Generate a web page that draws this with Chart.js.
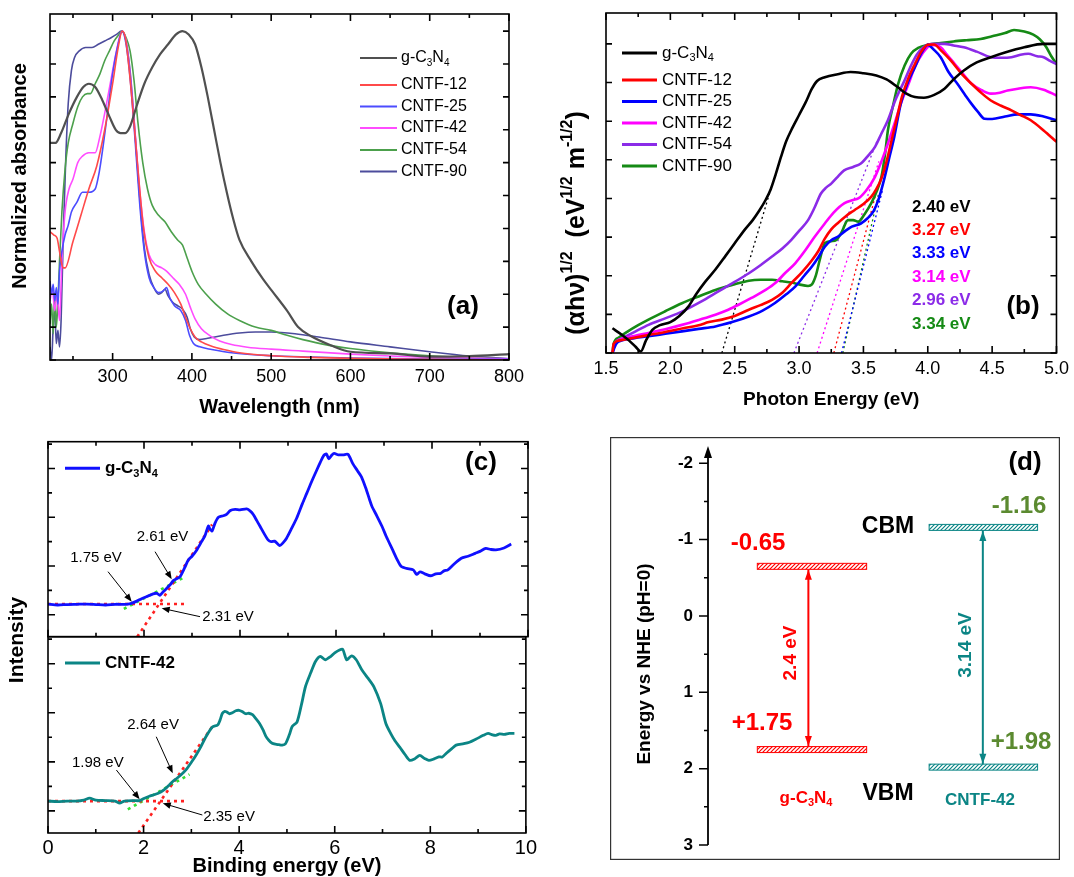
<!DOCTYPE html>
<html>
<head>
<meta charset="utf-8">
<script src="https://cdn.jsdelivr.net/npm/chart.js@4.4.1/dist/chart.umd.min.js"></script>
<style>
  html, body { margin: 0; padding: 0; background: #fff; }
  #wrap { position: relative; width: 1074px; height: 877px; overflow: hidden; }
  canvas { position: absolute; }
</style>
</head>
<body>
<div id="wrap">
  <canvas id="cA" width="530" height="430" style="left:0;top:0"></canvas>
  <canvas id="cB" width="544" height="430" style="left:530px;top:0"></canvas>
  <canvas id="cC1" width="540" height="447" style="left:0;top:430px"></canvas>
  <canvas id="cC2" width="540" height="447" style="left:0;top:430px"></canvas>
  <canvas id="cD" width="450" height="423" style="left:610px;top:437px"></canvas>
</div>
<script>
// ---- (a) normalized absorbance, [wavelength nm, value] ----
const absNames = ['g-C_3N_4', 'CNTF-12', 'CNTF-25', 'CNTF-42', 'CNTF-54', 'CNTF-90'];
const absGCN = [[221,0.66],[228,0.66],[235,0.69],[245,0.75],[255,0.80],[263,0.83],[270,0.84],[278,0.83],[287,0.79],[296,0.74],[304,0.70],[310,0.69],[316,0.69],[322,0.71],[330,0.77],[340,0.84],[350,0.89],[360,0.93],[370,0.96],[380,0.99],[388,1.0],[396,0.99],[404,0.96],[412,0.89],[420,0.80],[428,0.70],[436,0.60],[444,0.51],[452,0.43],[460,0.365],[475,0.30],[490,0.245],[501,0.21],[520,0.15],[534,0.10],[550,0.073],[575,0.045],[600,0.025],[650,0.02],[700,0.01],[750,0.012],[800,0.018]];
const absC12 = [[221,0.39],[226,0.38],[230,0.37],[233,0.33],[236,0.29],[238,0.28],[240,0.28],[250,0.36],[260,0.44],[270,0.52],[280,0.59],[290,0.70],[300,0.84],[307,0.95],[312,1.0],[316,0.98],[321,0.88],[327,0.72],[333,0.55],[339,0.40],[346,0.31],[354,0.27],[362,0.25],[370,0.23],[378,0.205],[386,0.17],[392,0.13],[398,0.095],[404,0.07],[412,0.055],[425,0.042],[440,0.032],[460,0.022],[500,0.013],[550,0.008],[600,0.005],[700,0.002],[800,0.0]];
const absC25 = [[221,0.24],[223,0.2],[225,0.23],[227,0.18],[229,0.22],[231,0.17],[233,0.27],[236,0.33],[240,0.38],[244,0.41],[248,0.45],[255,0.48],[262,0.51],[270,0.51],[278,0.52],[283,0.57],[288,0.65],[294,0.76],[300,0.87],[306,0.95],[312,1.0],[317,0.96],[322,0.86],[328,0.68],[334,0.48],[340,0.33],[346,0.25],[352,0.22],[358,0.205],[364,0.21],[368,0.22],[372,0.19],[378,0.165],[386,0.15],[392,0.12],[397,0.075],[402,0.05],[410,0.04],[425,0.032],[450,0.022],[500,0.013],[550,0.009],[600,0.006],[700,0.003],[800,0.002]];
const absC42 = [[221,0.18],[224,0.22],[227,0.15],[230,0.2],[233,0.12],[236,0.3],[240,0.45],[245,0.52],[250,0.55],[256,0.6],[262,0.62],[270,0.63],[278,0.63],[284,0.68],[290,0.75],[297,0.84],[304,0.93],[312,1.0],[317,0.97],[322,0.87],[328,0.70],[334,0.52],[340,0.39],[346,0.32],[354,0.29],[362,0.28],[368,0.27],[376,0.25],[384,0.23],[392,0.2],[398,0.16],[404,0.125],[412,0.095],[422,0.075],[435,0.058],[450,0.047],[470,0.039],[500,0.033],[540,0.027],[600,0.018],[650,0.012],[700,0.008],[800,0.004]];
const absC54 = [[221,0.11],[223,0.17],[225,0.08],[227,0.2],[229,0.1],[231,0.18],[233,0.3],[236,0.45],[240,0.58],[244,0.66],[250,0.72],[256,0.77],[262,0.80],[268,0.81],[272,0.81],[278,0.84],[284,0.87],[290,0.91],[296,0.94],[302,0.97],[308,0.99],[312,1.0],[317,0.98],[322,0.94],[327,0.85],[332,0.72],[338,0.60],[344,0.52],[350,0.47],[358,0.44],[366,0.42],[374,0.39],[382,0.365],[388,0.35],[394,0.31],[400,0.27],[408,0.23],[418,0.20],[430,0.17],[445,0.14],[460,0.12],[480,0.1],[500,0.09],[520,0.075],[540,0.062],[570,0.046],[600,0.035],[650,0.022],[700,0.013],[750,0.007],[800,0.003]];
const absC90 = [[221,0.04],[223,0.0],[225,0.1],[227,0.15],[229,0.05],[231,0.09],[233,0.04],[235,0.12],[238,0.4],[241,0.62],[244,0.78],[248,0.88],[252,0.92],[258,0.94],[266,0.95],[274,0.95],[282,0.96],[290,0.97],[298,0.98],[305,0.99],[311,1.0],[316,0.98],[322,0.88],[328,0.70],[334,0.50],[340,0.34],[346,0.26],[352,0.22],[358,0.20],[362,0.205],[366,0.215],[370,0.195],[376,0.175],[382,0.165],[388,0.155],[394,0.13],[398,0.095],[403,0.07],[410,0.062],[420,0.066],[440,0.075],[460,0.082],[480,0.085],[500,0.085],[530,0.08],[560,0.07],[600,0.055],[650,0.04],[700,0.025],[750,0.012],[800,0.004]];
const absData = [absGCN, absC12, absC25, absC42, absC54, absC90];

// ---- (b) Tauc plot, [photon energy eV, value] ----
const tauNames = ['g-C_3N_4', 'CNTF-12', 'CNTF-25', 'CNTF-42', 'CNTF-54', 'CNTF-90'];
const tauGCN = [[1.55,0.08],[1.62,0.06],[1.68,0.04],[1.73,0.02],[1.77,0.005],[1.81,0.04],[1.86,0.075],[1.92,0.09],[2.0,0.1],[2.07,0.12],[2.14,0.15],[2.2,0.19],[2.27,0.23],[2.35,0.27],[2.43,0.315],[2.5,0.355],[2.58,0.40],[2.64,0.43],[2.69,0.46],[2.74,0.495],[2.78,0.53],[2.82,0.58],[2.86,0.635],[2.9,0.685],[2.95,0.73],[3.0,0.77],[3.05,0.81],[3.1,0.855],[3.14,0.88],[3.2,0.892],[3.3,0.902],[3.4,0.909],[3.5,0.905],[3.6,0.898],[3.68,0.885],[3.76,0.862],[3.83,0.84],[3.9,0.828],[3.97,0.826],[4.05,0.835],[4.13,0.855],[4.2,0.885],[4.28,0.914],[4.38,0.94],[4.49,0.957],[4.6,0.972],[4.75,0.989],[4.9,1.0],[5.0,1.0]];
const tauC12 = [[1.55,0.0],[1.56,0.03],[1.6,0.04],[1.7,0.048],[1.83,0.058],[1.96,0.068],[2.1,0.08],[2.22,0.09],[2.3,0.1],[2.4,0.108],[2.5,0.12],[2.61,0.14],[2.7,0.155],[2.79,0.172],[2.87,0.195],[2.94,0.226],[3.02,0.26],[3.1,0.30],[3.15,0.33],[3.2,0.37],[3.25,0.40],[3.3,0.42],[3.37,0.445],[3.43,0.462],[3.5,0.482],[3.56,0.505],[3.6,0.53],[3.64,0.565],[3.68,0.62],[3.72,0.69],[3.76,0.76],[3.8,0.83],[3.85,0.89],[3.9,0.935],[3.95,0.975],[4.0,0.997],[4.05,0.998],[4.1,0.98],[4.18,0.946],[4.26,0.905],[4.34,0.871],[4.42,0.84],[4.49,0.817],[4.57,0.80],[4.65,0.785],[4.72,0.77],[4.8,0.753],[4.9,0.72],[5.0,0.683]];
const tauC25 = [[1.55,0.0],[1.58,0.03],[1.62,0.04],[1.72,0.048],[1.83,0.054],[1.96,0.062],[2.09,0.07],[2.22,0.078],[2.35,0.086],[2.48,0.1],[2.61,0.118],[2.72,0.138],[2.81,0.161],[2.9,0.19],[2.97,0.215],[3.04,0.25],[3.1,0.28],[3.15,0.31],[3.2,0.344],[3.25,0.365],[3.3,0.376],[3.36,0.395],[3.41,0.409],[3.48,0.419],[3.53,0.435],[3.58,0.46],[3.62,0.50],[3.66,0.56],[3.7,0.63],[3.74,0.70],[3.79,0.806],[3.84,0.87],[3.9,0.925],[3.95,0.97],[4.0,0.997],[4.05,0.98],[4.1,0.957],[4.16,0.91],[4.23,0.871],[4.29,0.835],[4.34,0.806],[4.39,0.78],[4.44,0.758],[4.5,0.757],[4.6,0.765],[4.7,0.772],[4.8,0.772],[4.9,0.765],[5.0,0.753]];
const tauC42 = [[1.55,0.0],[1.57,0.03],[1.62,0.045],[1.72,0.055],[1.83,0.065],[1.96,0.077],[2.09,0.091],[2.22,0.107],[2.35,0.124],[2.45,0.14],[2.53,0.156],[2.63,0.178],[2.74,0.204],[2.82,0.228],[2.89,0.258],[2.97,0.29],[3.05,0.333],[3.12,0.375],[3.2,0.419],[3.27,0.455],[3.35,0.484],[3.42,0.495],[3.46,0.50],[3.52,0.525],[3.59,0.57],[3.64,0.62],[3.69,0.677],[3.74,0.74],[3.79,0.806],[3.85,0.87],[3.9,0.925],[3.96,0.97],[4.03,0.997],[4.1,0.989],[4.15,0.965],[4.21,0.935],[4.28,0.90],[4.34,0.871],[4.42,0.85],[4.49,0.839],[4.56,0.842],[4.62,0.849],[4.7,0.855],[4.8,0.86],[4.9,0.852],[5.0,0.833]];
const tauC54 = [[1.55,0.0],[1.57,0.03],[1.63,0.048],[1.73,0.07],[1.83,0.091],[1.96,0.112],[2.09,0.134],[2.22,0.162],[2.35,0.194],[2.48,0.225],[2.61,0.258],[2.7,0.284],[2.79,0.312],[2.87,0.338],[2.94,0.366],[3.0,0.395],[3.07,0.43],[3.12,0.47],[3.17,0.516],[3.21,0.535],[3.25,0.548],[3.3,0.57],[3.35,0.591],[3.42,0.602],[3.48,0.613],[3.54,0.64],[3.59,0.667],[3.64,0.71],[3.69,0.753],[3.75,0.82],[3.82,0.882],[3.87,0.93],[3.92,0.968],[4.0,0.997],[4.06,1.0],[4.13,1.0],[4.2,0.995],[4.28,0.989],[4.38,0.975],[4.49,0.957],[4.57,0.955],[4.65,0.957],[4.72,0.965],[4.78,0.968],[4.85,0.96],[4.9,0.957],[4.95,0.945],[5.0,0.935]];
const tauC90 = [[1.55,0.0],[1.56,0.03],[1.6,0.05],[1.67,0.07],[1.75,0.09],[1.83,0.108],[1.96,0.135],[2.09,0.161],[2.22,0.183],[2.35,0.204],[2.48,0.22],[2.61,0.234],[2.7,0.237],[2.79,0.237],[2.87,0.232],[2.94,0.228],[3.0,0.222],[3.07,0.217],[3.1,0.222],[3.13,0.25],[3.16,0.30],[3.2,0.355],[3.25,0.362],[3.29,0.366],[3.33,0.39],[3.38,0.43],[3.42,0.43],[3.46,0.425],[3.51,0.45],[3.56,0.484],[3.6,0.52],[3.64,0.57],[3.67,0.65],[3.69,0.72],[3.73,0.80],[3.77,0.871],[3.82,0.93],[3.87,0.968],[3.93,0.988],[4.0,0.997],[4.1,1.003],[4.2,1.008],[4.3,1.012],[4.41,1.016],[4.5,1.025],[4.6,1.035],[4.67,1.045],[4.75,1.04],[4.82,1.03],[4.87,1.015],[4.92,0.99],[4.96,0.96],[5.0,0.935]];
const tauData = [tauGCN, tauC12, tauC25, tauC42, tauC54, tauC90];
// band gaps (x intercepts of the tangents) and the upper end of each tangent
const tauGap = [2.40, 3.27, 3.33, 3.14, 2.96, 3.34];
const tauTanEnd = [[2.78,0.53],[3.60,0.52],[3.65,0.53],[3.62,0.62],[3.61,0.69],[3.62,0.52]];

// ---- (c) VB-XPS, [binding energy eV, intensity] ----
const vbGCN = [[0,0.22],[0.2,0.2],[0.4,0.21],[0.6,0.215],[0.8,0.22],[1.0,0.21],[1.2,0.2],[1.4,0.215],[1.6,0.215],[1.72,0.23],[1.85,0.28],[1.95,0.33],[2.05,0.37],[2.19,0.43],[2.27,0.44],[2.33,0.40],[2.4,0.47],[2.47,0.54],[2.55,0.62],[2.61,0.70],[2.68,0.74],[2.75,0.78],[2.85,0.97],[2.92,1.12],[3.0,1.2],[3.1,1.33],[3.2,1.5],[3.27,1.62],[3.34,1.82],[3.38,1.75],[3.42,1.72],[3.48,1.88],[3.55,2.0],[3.65,2.03],[3.72,2.06],[3.8,2.14],[3.9,2.16],[4.0,2.15],[4.14,2.17],[4.22,2.12],[4.28,2.05],[4.35,1.93],[4.42,1.81],[4.5,1.67],[4.59,1.53],[4.65,1.5],[4.72,1.51],[4.83,1.42],[4.9,1.48],[4.97,1.57],[5.08,1.78],[5.18,1.98],[5.3,2.28],[5.39,2.49],[5.5,2.75],[5.6,2.97],[5.67,3.12],[5.74,3.26],[5.8,3.3],[5.85,3.2],[5.91,3.27],[5.96,3.31],[6.05,3.28],[6.15,3.28],[6.25,3.29],[6.35,3.1],[6.45,2.95],[6.53,2.83],[6.62,2.6],[6.7,2.36],[6.75,2.22],[6.85,2.03],[6.96,1.81],[7.05,1.6],[7.18,1.33],[7.28,1.12],[7.36,0.99],[7.47,0.95],[7.61,0.92],[7.68,0.83],[7.75,0.88],[7.85,0.84],[7.97,0.8],[8.08,0.84],[8.18,0.85],[8.25,0.9],[8.33,0.92],[8.45,1.03],[8.61,1.16],[8.75,1.2],[8.9,1.26],[9.0,1.3],[9.12,1.36],[9.22,1.34],[9.33,1.33],[9.5,1.37],[9.65,1.45]];
const vbC42 = [[0,0.2],[0.2,0.19],[0.4,0.2],[0.6,0.2],[0.75,0.22],[0.87,0.26],[1.0,0.22],[1.2,0.21],[1.4,0.2],[1.5,0.16],[1.6,0.2],[1.8,0.21],[1.92,0.21],[2.02,0.26],[2.12,0.3],[2.22,0.33],[2.33,0.37],[2.44,0.44],[2.54,0.53],[2.61,0.6],[2.68,0.65],[2.78,0.73],[2.89,0.84],[3.0,0.99],[3.1,1.14],[3.2,1.31],[3.31,1.52],[3.44,1.71],[3.55,1.75],[3.6,1.85],[3.65,1.99],[3.7,2.03],[3.75,2.01],[3.8,1.98],[3.86,2.0],[3.93,2.04],[4.0,2.05],[4.07,2.02],[4.14,1.98],[4.2,1.99],[4.28,1.96],[4.35,1.88],[4.42,1.79],[4.5,1.65],[4.56,1.52],[4.62,1.44],[4.69,1.38],[4.76,1.36],[4.83,1.35],[4.9,1.34],[4.97,1.37],[5.05,1.55],[5.11,1.72],[5.21,1.81],[5.3,2.15],[5.39,2.54],[5.5,2.82],[5.6,3.05],[5.7,3.15],[5.8,3.08],[5.92,3.15],[6.0,3.22],[6.1,3.28],[6.17,3.29],[6.25,3.08],[6.35,3.16],[6.45,3.08],[6.57,2.87],[6.7,2.7],[6.82,2.53],[6.96,2.19],[7.07,1.78],[7.17,1.58],[7.26,1.43],[7.36,1.3],[7.47,1.15],[7.57,1.03],[7.67,1.06],[7.78,1.13],[7.88,1.07],[7.97,1.03],[8.08,1.06],[8.18,1.1],[8.25,1.1],[8.33,1.17],[8.45,1.27],[8.54,1.34],[8.7,1.37],[8.82,1.4],[8.95,1.46],[9.11,1.54],[9.21,1.58],[9.3,1.55],[9.37,1.54],[9.45,1.57],[9.55,1.56],[9.65,1.58],[9.76,1.58]];
// fitted lines: baseline, steep edge, initial slope
const fitGCN = { base: [[0,0.22],[2.9,0.22]], edge: [[1.86,-0.45],[3.42,1.85]], slope: [[1.58,0.12],[2.86,0.78]] };
const fitC42 = { base: [[0,0.2],[2.9,0.2]], edge: [[1.89,-0.45],[3.44,1.72]], slope: [[1.67,0.03],[2.96,0.745]] };
const marksGCN = [1.75, 2.61, 2.31];
const marksC42 = [1.98, 2.64, 2.35];

// ---- (d) band positions vs NHE ----
const bandNames = ['g-C_3N_4', 'CNTF-42'];
const cbm = [-0.65, -1.16];
const vbm = [1.75, 1.98];

// ---- styles ----
const FONT = '"Liberation Sans", Arial, sans-serif';
const absColors = ['#505050', '#ff4a4a', '#4c4cff', '#ff4cff', '#4ca04c', '#4c4c9c'];
const tauColors = ['#000000', '#ff0000', '#0000ff', '#ff00ff', '#8b2be8', '#158a15'];
const RED = '#ff0000', TEAL = '#0b8585', OLIVE = '#5b8a30';

Chart.defaults.font.family = FONT;
Chart.defaults.color = '#000';
Chart.defaults.animation = false;
Chart.defaults.responsive = false;
Chart.defaults.plugins.legend.display = false;
Chart.defaults.plugins.tooltip.enabled = false;
Chart.defaults.elements.point.radius = 0;
Chart.defaults.elements.line.cubicInterpolationMode = 'monotone';

const xy = arr => arr.map(p => ({ x: p[0], y: p[1] }));
const ev = v => v.toFixed(2) + ' eV';

// text with _x subscripts and ^{..} superscripts
function parseRich(s) {
  const out = []; let buf = '';
  for (let i = 0; i < s.length; i++) {
    const c = s[i];
    if (c === '_' || c === '^') {
      if (buf) { out.push([buf, 0]); buf = ''; }
      let t;
      if (s[i + 1] === '{') { const j = s.indexOf('}', i); t = s.slice(i + 2, j); i = j; }
      else { t = s[i + 1]; i++; }
      out.push([t, c === '_' ? -1 : 1]);
    } else buf += c;
  }
  if (buf) out.push([buf, 0]);
  return out;
}
function drawRich(ctx, s, x, y, o) {
  const parts = parseRich(s);
  const size = o.size || 16, wt = o.weight || 'normal';
  const f = k => wt + ' ' + (k ? Math.round(size * 0.62) : size) + 'px ' + (o.family || FONT);
  let w = 0;
  parts.forEach(p => { ctx.font = f(p[1]); w += ctx.measureText(p[0]).width; });
  ctx.save();
  ctx.translate(x, y);
  if (o.rot) ctx.rotate(o.rot);
  ctx.fillStyle = o.color || '#000';
  ctx.textBaseline = 'middle';
  ctx.textAlign = 'left';
  let cx = o.align === 'left' ? 0 : (o.align === 'right' ? -w : -w / 2);
  parts.forEach(p => {
    ctx.font = f(p[1]);
    const dy = p[1] < 0 ? size * 0.32 : (p[1] > 0 ? -size * 0.38 : 0);
    ctx.fillText(p[0], cx, dy);
    cx += ctx.measureText(p[0]).width;
  });
  ctx.restore();
}

function steps(min, max, step) {
  const out = [];
  for (let k = Math.ceil(min / step - 1e-6); k * step <= max + 1e-6; k++) out.push(k * step);
  return out;
}

// box frame with inward ticks on the chart area
const framePlugin = {
  id: 'frame',
  afterDatasetsDraw(chart, args, o) {
    if (!o || !o.on) return;
    const { ctx, chartArea: a } = chart;
    const sx = chart.scales.x, sy = chart.scales.y;
    const tk = o.ticks || 'tblr';
    ctx.save();
    ctx.strokeStyle = '#000';
    ctx.lineWidth = 1.6;
    ctx.lineCap = 'square';
    ctx.strokeRect(a.left, a.top, a.right - a.left, a.bottom - a.top);
    ctx.lineCap = 'butt';
    ctx.beginPath();
    (o.x || []).forEach(t => steps(sx.min, sx.max, t[0]).forEach(v => {
      const p = sx.getPixelForValue(v);
      if (tk.includes('b')) { ctx.moveTo(p, a.bottom); ctx.lineTo(p, a.bottom - t[1]); }
      if (tk.includes('t')) { ctx.moveTo(p, a.top); ctx.lineTo(p, a.top + t[1]); }
    }));
    (o.y || []).forEach(t => steps(sy.min, sy.max, t[0]).forEach(v => {
      const p = sy.getPixelForValue(v);
      if (tk.includes('l')) { ctx.moveTo(a.left, p); ctx.lineTo(a.left + t[1], p); }
      if (tk.includes('r')) { ctx.moveTo(a.right, p); ctx.lineTo(a.right - t[1], p); }
    }));
    ctx.stroke();
    ctx.restore();
  }
};

// free text, arrows and a hand laid legend
const notesPlugin = {
  id: 'notes',
  afterDraw(chart, args, o) {
    if (!o) return;
    const { ctx } = chart;
    const sx = chart.scales.x, sy = chart.scales.y;
    (o.arrows || []).forEach(ar => {
      const x1 = sx.getPixelForValue(ar.from[0]), y1 = sy.getPixelForValue(ar.from[1]);
      const x2 = sx.getPixelForValue(ar.to[0]), y2 = sy.getPixelForValue(ar.to[1]);
      const ang = Math.atan2(y2 - y1, x2 - x1);
      ctx.save();
      ctx.strokeStyle = '#000'; ctx.fillStyle = '#000'; ctx.lineWidth = 1;
      ctx.beginPath(); ctx.moveTo(x1, y1); ctx.lineTo(x2 - 6 * Math.cos(ang), y2 - 6 * Math.sin(ang)); ctx.stroke();
      ctx.translate(x2, y2); ctx.rotate(ang);
      ctx.beginPath(); ctx.moveTo(0, 0); ctx.lineTo(-8, -3.2); ctx.lineTo(-8, 3.2); ctx.closePath(); ctx.fill();
      ctx.restore();
    });
    const lg = o.legend;
    if (lg) {
      lg.items.forEach((it, i) => {
        const y = lg.rows[i];
        ctx.save();
        ctx.strokeStyle = it.color; ctx.lineWidth = lg.lw;
        ctx.beginPath(); ctx.moveTo(lg.x0, y); ctx.lineTo(lg.x1, y); ctx.stroke();
        ctx.restore();
        drawRich(ctx, it.t, lg.tx, y, { size: lg.size, weight: lg.weight, align: 'left' });
      });
    }
    (o.items || []).forEach(n => {
      let x = n.cx, y = n.cy;
      if (n.x !== undefined) { x = sx.getPixelForValue(n.x); y = sy.getPixelForValue(n.y); }
      drawRich(ctx, n.t, x, y, n);
    });
  }
};

// hatched band edges, arrow heads and the vertical energy axis of panel (d)
function hatch(ctx, color) {
  const c = document.createElement('canvas');
  c.width = 4; c.height = 4;
  const g = c.getContext('2d');
  g.strokeStyle = color; g.lineWidth = 1.2;
  g.beginPath();
  g.moveTo(-1, 5); g.lineTo(5, -1);
  g.moveTo(-3, 3); g.lineTo(3, -3);
  g.moveTo(1, 7); g.lineTo(7, 1);
  g.stroke();
  return ctx.createPattern(c, 'repeat');
}
const bandPlugin = {
  id: 'bands',
  beforeDraw(chart, args, o) {
    if (!o || !o.on) return;
    const { ctx, width, height } = chart;
    ctx.save();
    ctx.strokeStyle = '#333'; ctx.lineWidth = 1.2;
    ctx.strokeRect(0.6, 0.6, width - 1.2, height - 1.2);
    ctx.restore();
  },
  afterDatasetsDraw(chart, args, o) {
    if (!o || !o.on) return;
    const { ctx, chartArea: a } = chart;
    const sx = chart.scales.x, sy = chart.scales.y;
    // axis with arrow and outward ticks
    ctx.save();
    ctx.strokeStyle = '#000'; ctx.fillStyle = '#000'; ctx.lineWidth = 1.8;
    ctx.beginPath(); ctx.moveTo(a.left, a.bottom); ctx.lineTo(a.left, a.top + 6); ctx.stroke();
    ctx.beginPath(); ctx.moveTo(a.left, a.top - 2); ctx.lineTo(a.left - 4, a.top + 10); ctx.lineTo(a.left + 4, a.top + 10); ctx.closePath(); ctx.fill();
    ctx.lineWidth = 1.5;
    ctx.beginPath();
    steps(-2, 3, 0.5).forEach(v => {
      const p = sy.getPixelForValue(v);
      const len = Math.abs(v - Math.round(v)) < 1e-6 ? 9 : 4;
      ctx.moveTo(a.left, p); ctx.lineTo(a.left - len, p);
    });
    ctx.stroke();
    ctx.restore();
    o.bars.forEach(b => {
      const x0 = sx.getPixelForValue(b.x0), x1 = sx.getPixelForValue(b.x1);
      const yc = sy.getPixelForValue(b.v);
      ctx.save();
      ctx.fillStyle = '#fff';
      ctx.fillRect(x0, yc - 3, x1 - x0, 6);
      ctx.fillStyle = hatch(ctx, b.color);
      ctx.fillRect(x0, yc - 3, x1 - x0, 6);
      ctx.strokeStyle = b.color; ctx.lineWidth = 1;
      ctx.strokeRect(x0, yc - 3, x1 - x0, 6);
      ctx.restore();
    });
    o.heads.forEach(h => {
      const x = sx.getPixelForValue(h.x);
      const yc = sy.getPixelForValue(h.v);
      const tip = h.up ? yc + 3.5 : yc - 3.5;
      const back = h.up ? tip + 10 : tip - 10;
      ctx.save();
      ctx.fillStyle = h.color;
      ctx.beginPath(); ctx.moveTo(x, tip); ctx.lineTo(x - 3.5, back); ctx.lineTo(x + 3.5, back); ctx.closePath(); ctx.fill();
      ctx.restore();
    });
  }
};

Chart.register(framePlugin, notesPlugin, bandPlugin);

const hideGrid = { display: false, drawTicks: false };
const noBorder = { display: false };

// ================= (a) =================
new Chart(document.getElementById('cA'), {
  type: 'line',
  data: {
    datasets: absData.map((d, i) => ({
      label: absNames[i], data: xy(d), borderColor: absColors[i], borderWidth: i === 0 ? 2.2 : 1.6
    }))
  },
  options: {
    layout: { padding: { left: 50, top: 14, right: 18, bottom: 0 } },
    scales: {
      x: {
        type: 'linear', min: 221, max: 800,
        afterFit: s => { s.height = 70; },
        grid: hideGrid, border: noBorder,
        ticks: { stepSize: 100, includeBounds: false, autoSkip: false, maxRotation: 0, padding: 6, font: { size: 18 } },
        title: { display: true, text: 'Wavelength (nm)', font: { size: 20, weight: 'bold', lineHeight: 1.2 }, padding: { top: 0, bottom: 11 } }
      },
      y: { display: false, min: 0, max: 1.052 }
    },
    plugins: {
      frame: { on: true, x: [[100, 7], [50, 4]], y: [[0.1, 6]] },
      notes: {
        legend: {
          x0: 360, x1: 397, tx: 401, lw: 2, size: 16, weight: 'normal',
          rows: [58, 85, 106.5, 128, 150, 171.5],
          items: absNames.map((n, i) => ({ t: n, color: absColors[i] }))
        },
        items: [
          { t: 'Normalized absorbance', cx: 20, cy: 176, rot: -Math.PI / 2, size: 20, weight: 'bold' },
          { t: '(a)', cx: 463, cy: 307, size: 26, weight: 'bold' }
        ]
      }
    }
  }
});

// ================= (b) =================
const tauSets = tauData.map((d, i) => ({
  label: tauNames[i], data: xy(d), borderColor: tauColors[i], borderWidth: 2.6
}));
tauGap.forEach((g, i) => tauSets.push({
  label: 'tangent ' + tauNames[i], data: xy([[g, 0], tauTanEnd[i]]), borderColor: tauColors[i],
  borderWidth: 1.3, borderDash: [2, 3], cubicInterpolationMode: 'default', tension: 0
}));
new Chart(document.getElementById('cB'), {
  type: 'line',
  data: { datasets: tauSets },
  options: {
    layout: { padding: { left: 76, top: 13, right: 14, bottom: 0 } },
    scales: {
      x: {
        type: 'linear', min: 1.5, max: 5.0,
        afterFit: s => { s.height = 77; },
        grid: hideGrid, border: noBorder,
        ticks: { stepSize: 0.5, includeBounds: false, autoSkip: false, maxRotation: 0, padding: 5, font: { size: 18 }, callback: v => v.toFixed(1) },
        title: { display: true, text: 'Photon Energy (eV)', font: { size: 19, weight: 'bold', lineHeight: 1.2 }, padding: { top: 0, bottom: 18.6 } }
      },
      y: { display: false, min: 0, max: 1.1 }
    },
    plugins: {
      frame: { on: true, x: [[0.5, 7], [0.25, 4]], y: [[0.125, 6]] },
      notes: {
        legend: {
          x0: 92, x1: 127, tx: 132, lw: 3, size: 17, weight: 'normal',
          rows: [53, 80, 101.5, 123, 144.5, 166],
          items: tauNames.map((n, i) => ({ t: n, color: tauColors[i] }))
        },
        items: tauGap.map((g, i) => ({ t: ev(g), cx: 382, cy: 207 + i * 23.4, align: 'left', size: 17, weight: 'bold', color: tauColors[i] }))
          .concat([
            { t: '(αhν)^{1/2}  (eV^{1/2} m^{-1/2})', cx: 47, cy: 223, rot: -Math.PI / 2, size: 25, weight: 'bold' },
            { t: '(b)', cx: 493, cy: 307, size: 26, weight: 'bold' }
          ])
      }
    }
  }
});

// ================= (c) =================
function vbSets(curve, color, fit) {
  return [
    { data: xy(curve), borderColor: color, borderWidth: 2.8, cubicInterpolationMode: 'default', tension: 0.25 },
    { data: xy(fit.base), borderColor: '#ff2020', borderWidth: 2.6, borderDash: [3, 4], tension: 0, cubicInterpolationMode: 'default' },
    { data: xy(fit.edge), borderColor: '#ff2020', borderWidth: 2.6, borderDash: [3, 4], tension: 0, cubicInterpolationMode: 'default' },
    { data: xy(fit.slope), borderColor: '#33e033', borderWidth: 2.6, borderDash: [3, 4], tension: 0, cubicInterpolationMode: 'default' }
  ];
}
const vbScaleY = { display: false, min: -0.45, max: 3.55 };
const vbFrameX = [[2, 7], [1, 4]], vbFrameY = [[1, 7], [0.5, 4]];

new Chart(document.getElementById('cC1'), {
  type: 'line',
  data: { datasets: vbSets(vbGCN, '#1010ff', fitGCN) },
  options: {
    layout: { padding: { left: 48, top: 11.7, right: 12, bottom: 240.3 } },
    scales: {
      x: { type: 'linear', display: false, min: 0, max: 10 },
      y: vbScaleY
    },
    plugins: {
      frame: { on: true, x: vbFrameX, y: vbFrameY, ticks: 'tblr' },
      notes: {
        legend: { x0: 65, x1: 100, tx: 105, lw: 3, size: 17, weight: 'bold', rows: [38.3], items: [{ t: 'g-C_3N_4', color: '#1010ff' }] },
        arrows: [
          { from: [1.25, 0.884], to: [1.744, 0.269] },
          { from: [2.23, 1.294], to: [2.577, 0.728] },
          { from: [3.167, -0.039], to: [2.369, 0.133] }
        ],
        items: [
          { t: ev(marksGCN[0]), x: 1.0, y: 1.165, size: 15 },
          { t: ev(marksGCN[1]), x: 2.385, y: 1.596, size: 15 },
          { t: ev(marksGCN[2]), x: 3.75, y: -0.045, size: 15 },
          { t: '(c)', cx: 481, cy: 33, size: 26, weight: 'bold' }
        ]
      }
    }
  }
});

new Chart(document.getElementById('cC2'), {
  type: 'line',
  data: { datasets: vbSets(vbC42, TEAL, fitC42) },
  options: {
    layout: { padding: { left: 48, top: 206.7, right: 12, bottom: 0 } },
    scales: {
      x: {
        type: 'linear', min: 0, max: 10,
        afterFit: s => { s.height = 44; },
        grid: hideGrid, border: noBorder,
        ticks: { stepSize: 2, includeBounds: false, autoSkip: false, maxRotation: 0, padding: 3, font: { size: 20 } },
        title: { display: true, text: 'Binding energy (eV)', font: { size: 20, weight: 'bold', lineHeight: 1 }, padding: { top: 0, bottom: 0.5 } }
      },
      y: vbScaleY
    },
    plugins: {
      frame: { on: true, x: vbFrameX, y: vbFrameY, ticks: 'blr' },
      notes: {
        legend: { x0: 65, x1: 100, tx: 105, lw: 3, size: 17, weight: 'bold', rows: [233], items: [{ t: 'CNTF-42', color: TEAL }] },
        arrows: [
          { from: [1.431, 0.833], to: [1.917, 0.236] },
          { from: [2.265, 1.511], to: [2.61, 0.766] },
          { from: [3.23, -0.083], to: [2.402, 0.155] }
        ],
        items: [
          { t: ev(marksC42[0]), x: 1.042, y: 0.98, size: 15 },
          { t: ev(marksC42[1]), x: 2.198, y: 1.75, size: 15 },
          { t: ev(marksC42[2]), x: 3.79, y: -0.118, size: 15 },
          { t: 'Intensity', cx: 17, cy: 210, rot: -Math.PI / 2, size: 21, weight: 'bold' }
        ]
      }
    }
  }
});

// ================= (d) =================
const bandColors = [RED, TEAL];
const levelSpan = [[0.1405, 0.452], [0.63, 0.939]];   // horizontal extent of each material's levels
const gapAt = [0.286, 0.783];                           // where the gap arrow is drawn
const fmtSigned = v => (v > 0 ? '+' : '') + v.toFixed(2);
const gapText = i => String(Math.round((vbm[i] - cbm[i]) * 100) / 100) + ' eV';

new Chart(document.getElementById('cD'), {
  type: 'line',
  data: {
    datasets: bandNames.map((n, i) => ({
      label: n, data: [{ x: gapAt[i], y: cbm[i] }, { x: gapAt[i], y: vbm[i] }],
      borderColor: bandColors[i], borderWidth: 2, tension: 0, cubicInterpolationMode: 'default'
    }))
  },
  options: {
    layout: { padding: { left: 0, top: 11, right: 1, bottom: 15 } },
    scales: {
      x: { type: 'linear', display: false, min: 0, max: 1 },
      y: {
        type: 'linear', reverse: true, min: -2.2, max: 3,
        afterFit: s => { s.width = 98; },
        // invisible tick marks keep the labels clear of the axis without adding vertical padding
        grid: { display: true, drawOnChartArea: false, drawTicks: true, tickLength: 15, color: 'rgba(0,0,0,0)' },
        border: noBorder,
        ticks: { stepSize: 1, includeBounds: false, autoSkip: false, padding: 0, font: { size: 17, weight: 'bold' }, callback: v => String(v) }
      }
    },
    plugins: {
      bands: {
        on: true,
        bars: [
          { v: cbm[0], x0: levelSpan[0][0], x1: levelSpan[0][1], color: RED },
          { v: vbm[0], x0: levelSpan[0][0], x1: levelSpan[0][1], color: RED },
          { v: cbm[1], x0: levelSpan[1][0], x1: levelSpan[1][1], color: TEAL },
          { v: vbm[1], x0: levelSpan[1][0], x1: levelSpan[1][1], color: TEAL }
        ],
        heads: [
          { x: gapAt[0], v: cbm[0], up: true, color: RED },
          { x: gapAt[0], v: vbm[0], up: false, color: RED },
          { x: gapAt[1], v: cbm[1], up: true, color: TEAL },
          { x: gapAt[1], v: vbm[1], up: false, color: TEAL }
        ]
      },
      notes: {
        items: [
          { t: fmtSigned(cbm[0]), cx: 148, cy: 106, size: 24, weight: 'bold', color: RED },
          { t: fmtSigned(vbm[0]), cx: 152, cy: 286, size: 24, weight: 'bold', color: RED },
          { t: fmtSigned(cbm[1]), cx: 409, cy: 69, size: 24, weight: 'bold', color: OLIVE },
          { t: fmtSigned(vbm[1]), cx: 411, cy: 305, size: 24, weight: 'bold', color: OLIVE },
          { t: 'CBM', cx: 278, cy: 90, size: 23, weight: 'bold' },
          { t: 'VBM', cx: 278, cy: 357, size: 23, weight: 'bold' },
          { t: bandNames[0], cx: 196, cy: 361, size: 17, weight: 'bold', color: RED },
          { t: bandNames[1], cx: 370, cy: 363, size: 17, weight: 'bold', color: TEAL },
          { t: gapText(0), cx: 181, cy: 216, rot: -Math.PI / 2, size: 19, weight: 'bold', color: RED },
          { t: gapText(1), cx: 356, cy: 208, rot: -Math.PI / 2, size: 19, weight: 'bold', color: TEAL },
          { t: 'Energy vs NHE (pH=0)', cx: 35, cy: 227, rot: -Math.PI / 2, size: 19, weight: 'bold' },
          { t: '(d)', cx: 415, cy: 26, size: 26, weight: 'bold' }
        ]
      }
    }
  }
});
</script>
</body>
</html>
